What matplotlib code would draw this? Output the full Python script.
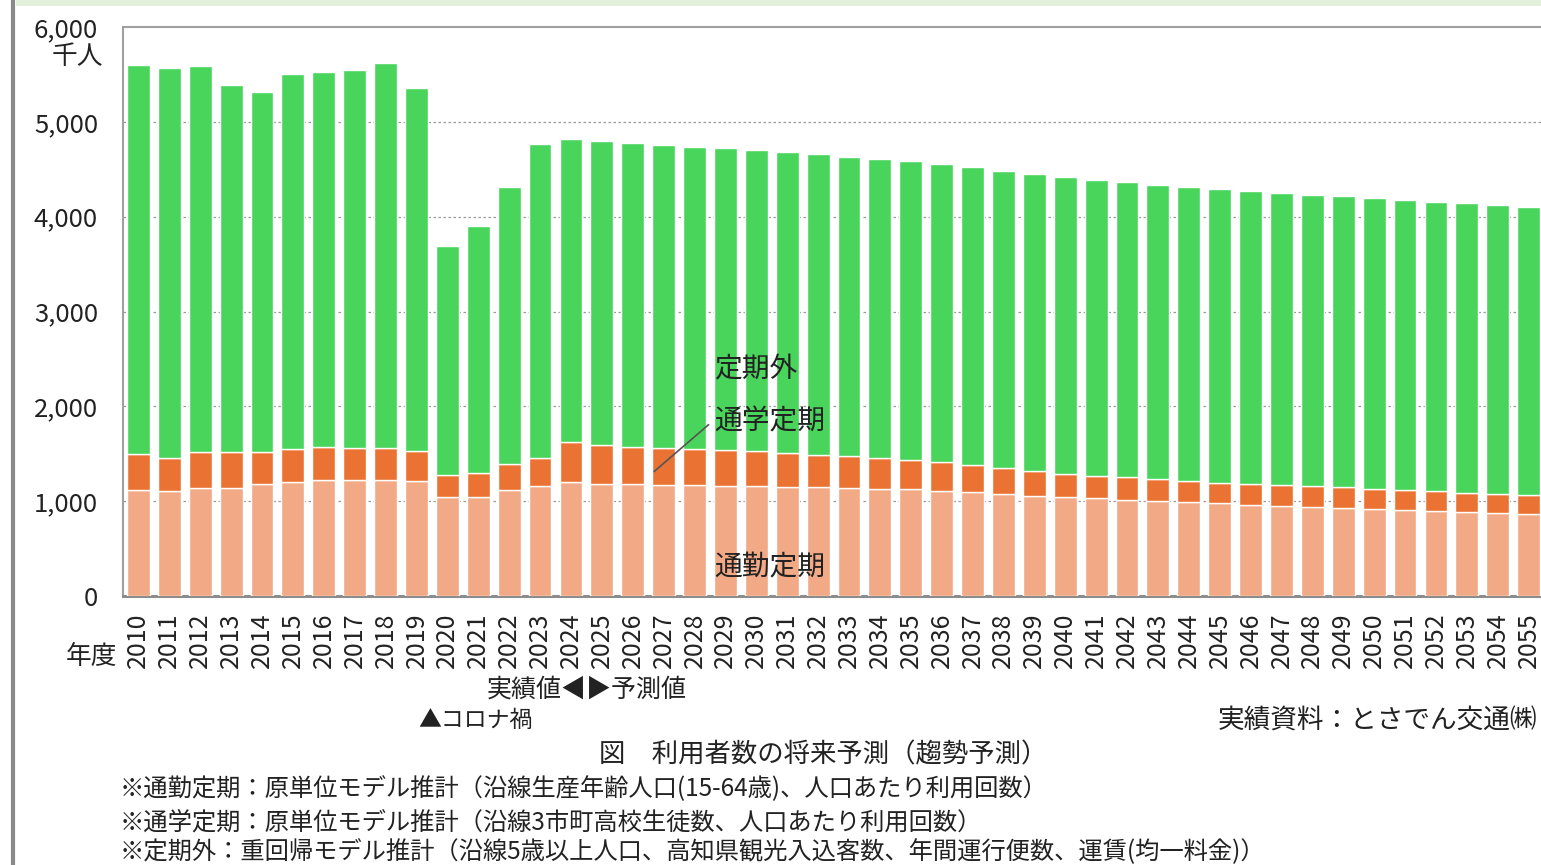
import matplotlib
matplotlib.use("Agg")
import matplotlib.pyplot as plt
import numpy as np

plt.rcParams['font.family'] = ['Noto Sans CJK JP', 'DejaVu Sans']

years = [str(y) for y in range(2010, 2056)]

commute = [1115, 1105, 1137, 1140, 1182, 1203, 1221, 1221, 1221, 1214,
           1042, 1042, 1119, 1158, 1203, 1179, 1176, 1168, 1168, 1161,
           1161, 1154, 1147, 1140, 1133, 1128, 1108, 1094, 1077, 1059,
           1045, 1031, 1013, 1003, 992, 978, 964, 953, 943, 932,
           921, 911, 900, 890, 879, 869]
school = [387, 351, 379, 376, 334, 345, 352, 338, 338, 313,
          238, 253, 271, 295, 422, 415, 400, 397, 383, 376,
          366, 355, 344, 338, 323, 307, 303, 286, 271, 260,
          243, 239, 240, 229, 222, 215, 215, 215, 215, 215,
          212, 208, 208, 201, 198, 194]
other = [4102, 4109, 4074, 3877, 3796, 3961, 3954, 3989, 4066, 3834,
         2410, 2603, 2920, 3314, 3198, 3205, 3205, 3195, 3188, 3188,
         3177, 3174, 3171, 3155, 3156, 3156, 3145, 3144, 3137, 3135,
         3127, 3121, 3116, 3106, 3103, 3103, 3095, 3085, 3074, 3071,
         3064, 3060, 3050, 3050, 3043, 3039]

yticks = [0, 1000, 2000, 3000, 4000, 5000, 6000]
ytick_labels = ['0', '1,000', '2,000', '3,000', '4,000', '5,000', '6,000']

c_commute = '#F2A985'
c_school = '#EA7333'
c_other = '#49D55C'

W, H = 1541, 865
fig = plt.figure(figsize=(W / 100, H / 100), dpi=100)

def fx(px):
    return px / W

def fy(py):
    return 1 - py / H

ax = fig.add_axes([fx(123), fy(596), fx(1541) - fx(123) + 0.002, fy(27) - fy(596)])

x = np.arange(len(years))
commute_a = np.array(commute)
school_a = np.array(school)
other_a = np.array(other)
bw = 0.74
ax.bar(x, commute_a, bw, color=c_commute, edgecolor='white', linewidth=1.0, zorder=3)
ax.bar(x, school_a, bw, bottom=commute_a, color=c_school, edgecolor='white', linewidth=1.0, zorder=3)
ax.bar(x, other_a, bw, bottom=commute_a + school_a, color=c_other, edgecolor='white', linewidth=1.0, zorder=3)

ax.set_xlim(-0.5, len(years) - 0.5)
ax.set_ylim(0, 6000)
ax.set_yticks(yticks)
ax.set_yticklabels(ytick_labels, fontsize=18.5, color='#222222')
for lbl in ax.get_yticklabels():
    lbl.set_va('center_baseline')
ax.set_xticks(x)
ax.set_xticklabels(years, rotation=90, fontsize=18, color='#222222')
ax.tick_params(axis='y', length=0, pad=18)
ax.tick_params(axis='x', length=0, pad=12)

for gy in yticks[1:-1]:
    ax.axhline(gy, color='#999999', linestyle=(0, (2, 2)), linewidth=0.9, zorder=1)

for side in ['top', 'left']:
    ax.spines[side].set_color('#a0a0a0')
    ax.spines[side].set_linewidth(1.5)
ax.spines['right'].set_visible(False)
ax.spines['bottom'].set_color('#8c8c8c')
ax.spines['bottom'].set_linewidth(2.2)

# in-chart series labels
ax.text(18.64, 2385, '定期外', fontsize=20, ha='left', va='center', color='#222222', zorder=5)
ax.text(18.64, 1845, '通学定期', fontsize=20, ha='left', va='center', color='#222222', zorder=5)
ax.text(18.64, 296, '通勤定期', fontsize=20, ha='left', va='center', color='#222222', zorder=5)
ax.plot([16.70, 18.45], [1315, 1805], color='#555555', linewidth=1.2, zorder=5)

# frame decorations
fig.add_artist(plt.Line2D([fx(13.5), fx(13.5)], [0, 1], color='#8a8a8a', linewidth=3))
fig.add_artist(plt.Rectangle((fx(16), fy(6)), 1 - fx(16), fy(0) - fy(6), facecolor='#E2EFDA',
                             edgecolor='none'))

# figure texts
fig.text(fx(103), fy(57), '千人', fontsize=18.5, ha='right', va='center', color='#222222')
fig.text(fx(117), fy(657), '年度', fontsize=18.5, ha='right', va='center', color='#222222')
fig.text(fx(587), fy(690), '実績値◀▶予測値', fontsize=18, ha='center', va='center', color='#222222')
fig.text(fx(418), fy(720), '▲コロナ禍', fontsize=16.5, ha='left', va='center', color='#222222')
fig.text(fx(1537), fy(720), '実績資料：とさでん交通㈱', fontsize=19.2, ha='right', va='center', color='#222222')
fig.text(fx(823), fy(755), '図　利用者数の将来予測（趨勢予測）', fontsize=19, ha='center', va='center', color='#222222')
fig.text(fx(120), fy(789), '※通勤定期：原単位モデル推計（沿線生産年齢人口(15-64歳)、人口あたり利用回数）',
         fontsize=17.5, ha='left', va='center', color='#222222')
fig.text(fx(120), fy(823), '※通学定期：原単位モデル推計（沿線3市町高校生徒数、人口あたり利用回数）',
         fontsize=17.5, ha='left', va='center', color='#222222')
fig.text(fx(120), fy(852), '※定期外：重回帰モデル推計（沿線5歳以上人口、高知県観光入込客数、年間運行便数、運賃(均一料金)）',
         fontsize=17.5, ha='left', va='center', color='#222222')

fig.savefig('out.png', dpi=100, facecolor='white')
